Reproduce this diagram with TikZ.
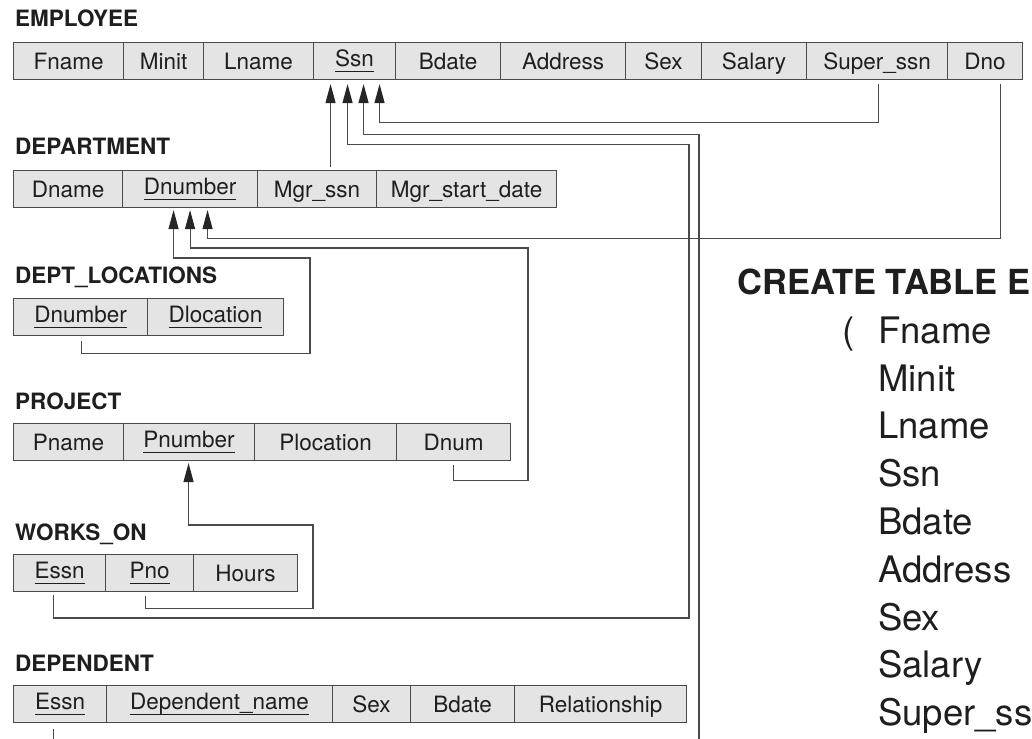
\documentclass[tikz,border=0pt]{standalone}
\usepackage{fontspec}
\setmainfont{TeX Gyre Heros}
\usetikzlibrary{arrows.meta,calc}
\definecolor{cellfill}{HTML}{E4E4E4}
\definecolor{linec}{HTML}{4A4A4A}
\definecolor{txt}{HTML}{1E1E1E}
\newcommand\pkey[1]{\raisebox{3pt}{\setbox0\hbox{#1}\rlap{\rule[-6pt]{\wd0}{1.1pt}}\box0}}
\begin{document}
\begin{tikzpicture}[x=1pt,y=-1pt,
  cell/.style={draw=linec, fill=cellfill, line width=1.1pt, minimum height=37pt,
    inner sep=0pt, anchor=north west, text=txt, font=\fontsize{22.5}{26}\selectfont,
    text height=16pt, text depth=0pt},
  ttl/.style={anchor=base west, inner sep=0pt, text=txt, font=\fontsize{22.5}{26}\selectfont\bfseries},
  big/.style={anchor=base west, inner sep=0pt, text=txt, font=\fontsize{36.5}{40}\selectfont},
  fk/.style={draw=linec, line width=1.1pt},
  fka/.style={fk, -{Triangle[width=10pt,length=19pt,color=black!85]}}]
\clip (0,0) rectangle (1032,738);
\fill[white] (0,0) rectangle (1032,738);

% EMPLOYEE
\node[ttl] (t-emp) at (15,27) {EMPLOYEE};
\node[cell, minimum width=110pt] (e-fname) at (13,42) {Fname};
\node[cell, minimum width=80pt] (e-minit) at (123,42) {Minit};
\node[cell, minimum width=110pt] (e-lname) at (203,42) {Lname};
\node[cell, minimum width=82pt] (e-ssn) at (313,42) {\pkey{Ssn}};
\node[cell, minimum width=105pt] (e-bdate) at (395,42) {Bdate};
\node[cell, minimum width=125pt] (e-address) at (500,42) {Address};
\node[cell, minimum width=76pt] (e-sex) at (625,42) {Sex};
\node[cell, minimum width=105pt] (e-salary) at (701,42) {Salary};
\node[cell, minimum width=141pt] (e-super) at (806,42) {Super\_ssn};
\node[cell, minimum width=75pt] (e-dno) at (947,42) {Dno};

% DEPARTMENT
\node[ttl] (t-dept) at (15,155) {DEPARTMENT};
\node[cell, minimum width=109pt] (d-dname) at (13,170) {Dname};
\node[cell, minimum width=135pt] (d-dnumber) at (122,170) {\pkey{Dnumber}};
\node[cell, minimum width=119pt] (d-mgr) at (257,170) {Mgr\_ssn};
\node[cell, minimum width=180pt] (d-mgrdate) at (376,170) {Mgr\_start\_date};

% DEPT_LOCATIONS
\node[ttl] (t-loc) at (15,283) {DEPT\_LOCATIONS};
\node[cell, minimum width=134pt] (l-dnumber) at (13,298) {\pkey{Dnumber}};
\node[cell, minimum width=136pt] (l-dloc) at (147,298) {\pkey{Dlocation}};

% PROJECT
\node[ttl] (t-proj) at (15,409) {PROJECT};
\node[cell, minimum width=110pt] (pr-pname) at (13,423) {Pname};
\node[cell, minimum width=131pt] (pr-pnumber) at (123,423) {\pkey{Pnumber}};
\node[cell, minimum width=142pt] (pr-ploc) at (254,423) {Plocation};
\node[cell, minimum width=114pt] (pr-dnum) at (396,423) {Dnum};

% WORKS_ON
\node[ttl] (t-wo) at (15,540) {WORKS\_ON};
\node[cell, minimum width=92pt] (w-essn) at (13,554) {\pkey{Essn}};
\node[cell, minimum width=88pt] (w-pno) at (105,554) {\pkey{Pno}};
\node[cell, minimum width=104pt] (w-hours) at (193,554) {Hours};

% DEPENDENT
\node[ttl] (t-dep) at (15,671) {DEPENDENT};
\node[cell, minimum width=93pt] (dp-essn) at (13,685) {\pkey{Essn}};
\node[cell, minimum width=226pt] (dp-name) at (106,685) {\pkey{Dependent\_name}};
\node[cell, minimum width=78pt] (dp-sex) at (332,685) {Sex};
\node[cell, minimum width=104pt] (dp-bdate) at (410,685) {Bdate};
\node[cell, minimum width=172pt] (dp-rel) at (514,685) {Relationship};

% elbow coordinates
\coordinate (wo-r) at (689,618);
\coordinate (dep-r) at (699,760);
\coordinate (pj-r) at (528,248);
\coordinate (loc-r) at (310,258);
\coordinate (pno-r) at (313,525);

% connectors
\draw[fka] ($(e-super.south)+(1.5,4)$) -- ++(0,38) -| ($(e-ssn.south)+(25,4)$);
\draw[fka] ($(d-mgr.north)+(13.5,-3)$) -- ($(e-ssn.south)+(-24,4)$);
\draw[fka] ($(w-essn.south)+(-6,3)$) |- (wo-r) |- ($(e-ssn.south)+(-7,64)$) -- ($(e-ssn.south)+(-7,4)$);
\draw[fka] ($(dp-essn.south)+(-6.5,6)$) |- (dep-r) |- ($(e-ssn.south)+(9,54)$) -- ($(e-ssn.south)+(9,4)$);
\draw[fka] ($(e-dno.south)+(15.5,4)$) -- ++(0,154) -| ($(d-dnumber.south)+(17.5,2)$);
\draw[fka] ($(pr-dnum.south)+(0,4)$) -- ++(0,15) -| (pj-r) -| ($(d-dnumber.south)+(0,2)$);
\draw[fka] ($(l-dnumber.south)+(1,5)$) -- ++(0,12) -| (loc-r) -| ($(d-dnumber.south)+(-16.5,2)$);
\draw[fka] ($(w-pno.south)+(-4,4)$) -- ++(0,12) -| (pno-r) -| ($(pr-pnumber.south)+(-0.5,2)$);

% SQL text
\node[anchor=base west, inner sep=0pt, text=txt, font=\fontsize{34.5}{40}\selectfont\bfseries] (ct) at (737,294) {CREATE TABLE E};
\node[big] (par) at (842,343) {(};
\node[big] (s1) at (878,343) {Fname};
\node[big] (s2) at (878,391) {Minit};
\node[big] (s3) at (878,438) {Lname};
\node[big] (s4) at (878,486) {Ssn};
\node[big] (s5) at (878,534) {Bdate};
\node[big] (s6) at (878,582) {Address};
\node[big] (s7) at (878,630) {Sex};
\node[big] (s8) at (878,677) {Salary};
\node[big] (s9) at (878,725) {Super\_ss};
\end{tikzpicture}
\end{document}
